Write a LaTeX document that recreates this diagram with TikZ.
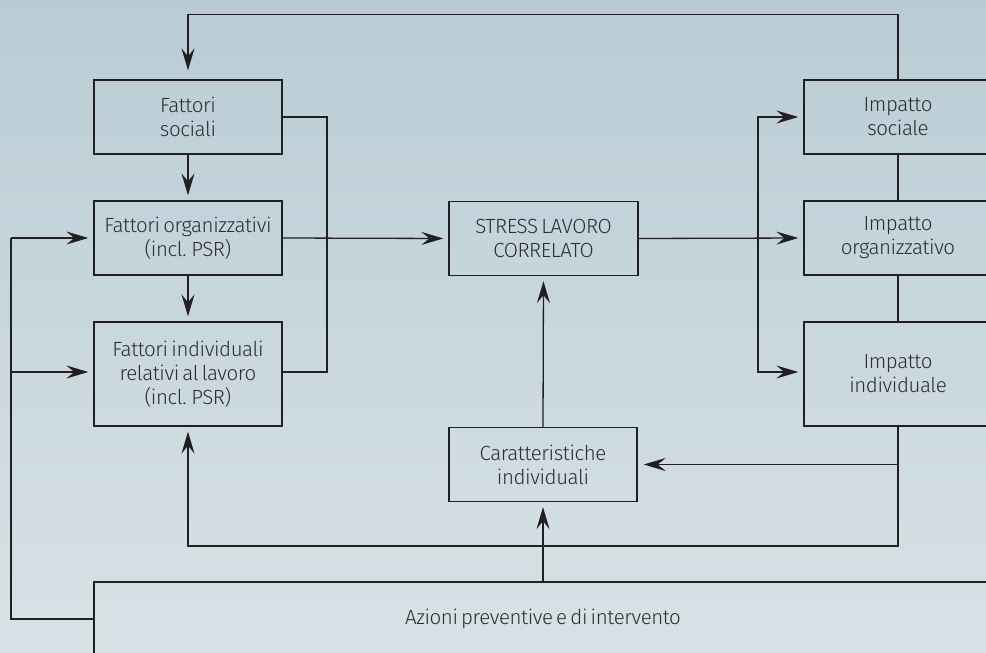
\documentclass[tikz,border=0pt]{standalone}
\usepackage{fontspec}
\setmainfont{Fira Sans}[UprightFont=* Light, LetterSpace=-2, WordSpace=0.6]
\usetikzlibrary{arrows.meta,calc}
\definecolor{bgtop}{RGB}{185,204,213}
\definecolor{bgbot}{RGB}{216,226,230}
\definecolor{ink}{RGB}{35,31,32}
\definecolor{txt}{RGB}{45,45,48}
\tikzset{
  box/.style={draw=ink, line width=1.3pt, minimum width=188pt, minimum height=74pt,
    align=center, text=txt, font=\fontsize{20.5}{24}\selectfont, inner sep=0pt},
  tallbox/.style={box, minimum height=104pt},
  link/.style={draw=ink, line width=1.3pt},
  arr/.style={link, -{Stealth[length=22pt,width=13pt,inset=8pt]}, shorten >=5pt},
}
\begin{document}
\begin{tikzpicture}[x=1pt,y=-1pt]
\shade[top color=bgtop, bottom color=bgbot] (0,0) rectangle (986,653);
\useasboundingbox (0,0) rectangle (986,653);
\clip (0,0) rectangle (986,653);
% nodes
\node[box] (fs) at (188,117) {Fattori\\sociali};
\node[box] (fo) at (188,238) {Fattori organizzativi\\(incl. PSR)};
\node[tallbox] (fi) at (188,374) {Fattori individuali\\relativi al lavoro\\(incl. PSR)};
\node[box, minimum width=189pt] (st) at (543.5,238.5) {STRESS LAVORO\\CORRELATO};
\node[box] (ci) at (543,464.5) {Caratteristiche\\individuali};
\node[box] (is) at (898,117) {Impatto\\sociale};
\node[box] (io) at (898,238) {Impatto\\organizzativo};
\node[tallbox] (ii) at (898,374) {Impatto\\individuale};
\node[box, minimum width=898pt, minimum height=74pt] (az) at (543,619) {Azioni preventive e di intervento};
% coordinates
\coordinate (top) at (188,14.5);
\coordinate (rj) at (327,117);
\coordinate (rk) at (327,372);
\coordinate (vj) at (758,238);
\coordinate (lb) at (11,619);
\coordinate (lt) at (11,238);
\coordinate (bj) at (898,546);
% connectors
\draw[arr, shorten >=9pt] (is.north) |- (top) -- (fs.north);
\draw[arr] (fs.south) -- (fo.north);
\draw[arr] (fo.south) -- (fi.north);
\draw[link] (fs.east) -- (rj) -- (rk) -- (rk -| fi.east);
\draw[arr] (fo.east) -- (st.west);
\draw[arr] (st.east) -- (io.west);
\draw[arr] (vj) |- (is.west);
\draw[arr] (vj) |- (rk -| ii.west);
\draw[link] (is.south) -- (io.north);
\draw[link] (io.south) -- (ii.north);
\draw[arr] (ci.north) -- (st.south);
\draw[arr] (az.north) -- (ci.south);
\draw[arr] (ii.south) -- (bj) -| (fi.south);
\draw[arr, shorten >=6pt] (ci.east -| ii.south) -- (ci.east);
\draw[link] (az.west) -- (lb) -- (lt);
\draw[arr] (lt) -- (fo.west);
\draw[arr] (lt |- rk) -- (rk -| fi.west);
\end{tikzpicture}
\end{document}
